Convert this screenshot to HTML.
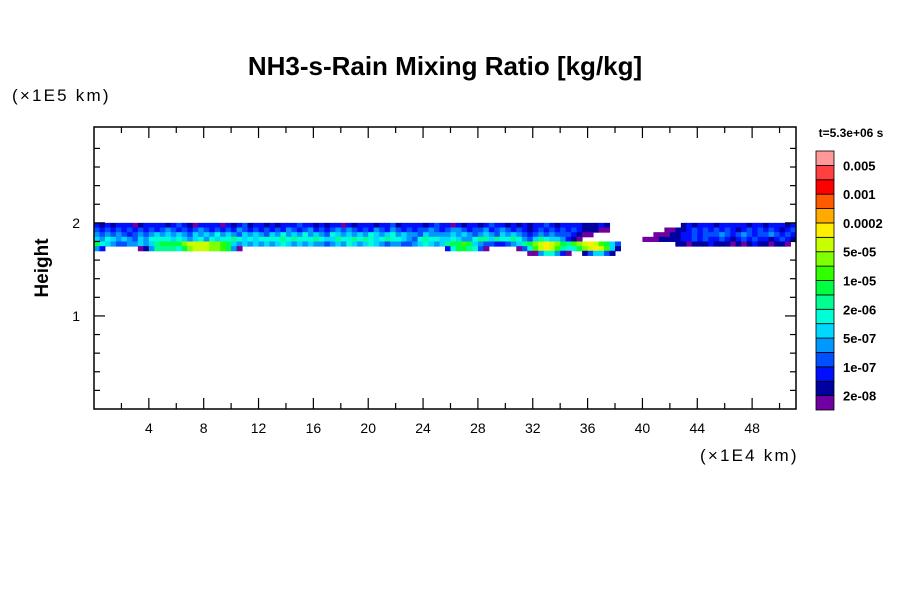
<!DOCTYPE html>
<html><head><meta charset="utf-8"><style>
body{margin:0;background:#fff;}
svg{display:block;font-family:"Liberation Sans",sans-serif;}
</style></head><body>
<svg id="chart" width="900" height="600">
<text x="445" y="75" text-anchor="middle" font-size="26" font-weight="bold">NH3-s-Rain Mixing Ratio [kg/kg]</text>
<text x="12" y="101" font-size="17" letter-spacing="2.2">(×1E5 km)</text>
<text x="700" y="461" font-size="17" letter-spacing="2.2">(×1E4 km)</text>
<text transform="translate(48,268) rotate(-90)" text-anchor="middle" font-size="19" font-weight="bold">Height</text>
<text x="851" y="137" text-anchor="middle" font-size="12" font-weight="bold">t=5.3e+06 s</text>
<g id="cells"></g><g id="axes"></g><g id="cbar"></g>
</svg>
<script>
const xTicks=[4,8,12,16,20,24,28,32,36,40,44,48];
const yTicks=[1,2];
const colors=["#7000a0","#0000a0","#0010ff","#0050ff","#0098ff","#00d8ff","#00ffd8","#00ff90","#00ff40","#30ff00","#80ff00","#c8ff00","#ffee00","#ffaa00","#ff5a00","#ff0000","#ff4040","#ff9999"];
const cbarLabels=["2e-08","1e-07","5e-07","2e-06","1e-05","5e-05","0.0002","0.001","0.005"];
const rowTops=[2.0,1.95,1.90,1.85,1.80,1.75,1.70];
const colWidth=0.4;
const rows=[
"3232333123333234 3213333132342332 3233343323233132 3332334233332343 3132332343323232 3343233332223200 0000000000023233 3233333233233323",
"4343434343434543 4345434343543434 3435434534345454 3435435434344543 4554344534543432 3434343432221100 0000000011223434 3434323434343234",
"5454543454565656 5465657565465654 6575657565476565 6576567565546555 5656545654656543 4545444321100000 0000001112233434 4454345434454343",
"6576565465777767 6567576778767677 7787877787668778 7876787765478776 6765578868778754 6876653210000000 0000111222233434 3343234343323432",
"9765445565689999 bccccbba96565656 5676565655456576 5676545544567656 899a965443345689 bcdcb98abcdca964 0000000000221222 3222121232212210",
"5300000012588887 9bcccbba95100000 0000000000000000 0000000000000000 3799874100000147 acdca8779bcdca62 0000000000000000 0000000000000000",
"0000000000000000 0000000000000000 0000000000000000 0000000000000000 0000000000000001 1577531002466420 0000000000000000 0000000000000000"
];
const NS="http://www.w3.org/2000/svg";
const L=94,R=796,T=127,B=409;
const xMax=51.2,yMax=3.03;
function xs(v){return L+v/xMax*(R-L);}
function ys(v){return B-v/yMax*(B-T);}
function mk(tag,attrs,parent){const e=document.createElementNS(NS,tag);for(const k in attrs)e.setAttribute(k,attrs[k]);parent.appendChild(e);return e;}
const cells=document.getElementById('cells');
rows.forEach((raw,ri)=>{
  const s=raw.replace(/ /g,'');
  const y0=ys(rowTops[ri]),y1=ys(rowTops[ri]-0.05);
  for(let ci=0;ci<s.length;ci++){
    const lv=parseInt(s[ci],16);
    if(!lv)continue;
    const x0=xs(ci*colWidth),x1=Math.min(xs((ci+1)*colWidth),R);
    if(x0>=R)continue;
    const r=mk('rect',{x:x0,y:y0,width:x1-x0+0.5,height:y1-y0+0.5,fill:colors[lv-1]},cells);
    
    
  }
});
const ax=document.getElementById('axes');
const fr=mk('rect',{x:L,y:T,width:R-L,height:B-T,fill:"none",stroke:"#000","stroke-width":1.5},ax);


for(let v=2;v<xMax;v+=2){
  const maj=v%4===0,len=maj?11:6,x=xs(v);
  mk('line',{x1:x,x2:x,y1:B,y2:B-len,stroke:"#000","stroke-width":1.2},ax);
  mk('line',{x1:x,x2:x,y1:T,y2:T+len,stroke:"#000","stroke-width":1.2},ax);
}
for(let i=1;i<15;i++){
  const v=i*0.2,maj=i%5===0,len=maj?11:6,y=ys(v);
  mk('line',{x1:L,x2:L+len,y1:y,y2:y,stroke:"#000","stroke-width":1.2},ax);
  mk('line',{x1:R,x2:R-len,y1:y,y2:y,stroke:"#000","stroke-width":1.2},ax);
}
xTicks.forEach(v=>{
  const t=mk('text',{x:xs(v),y:433,"text-anchor":"middle","font-size":14},ax);
  t.textContent=v;
  
  
});
yTicks.forEach(v=>{
  const t=mk('text',{x:80,y:ys(v)+5,"text-anchor":"end","font-size":14},ax);
  t.textContent=v;
  
  
});
const cb=document.getElementById('cbar');
const cbT=151,cbB=410,cbX=816,cbW=18,h=(cbB-cbT)/colors.length;
colors.forEach((c,i)=>{
  const r=mk('rect',{x:cbX,y:cbB-(i+1)*h,width:cbW,height:h,fill:c,stroke:"#000","stroke-width":0.8},cb);
  
  
});
cbarLabels.forEach((s,i)=>{
  const t=mk('text',{x:843,y:cbB-(2*i+1)*h+5,"font-size":13,"font-weight":"bold"},cb);
  t.textContent=s;
  
  
});
</script>
</body></html>
